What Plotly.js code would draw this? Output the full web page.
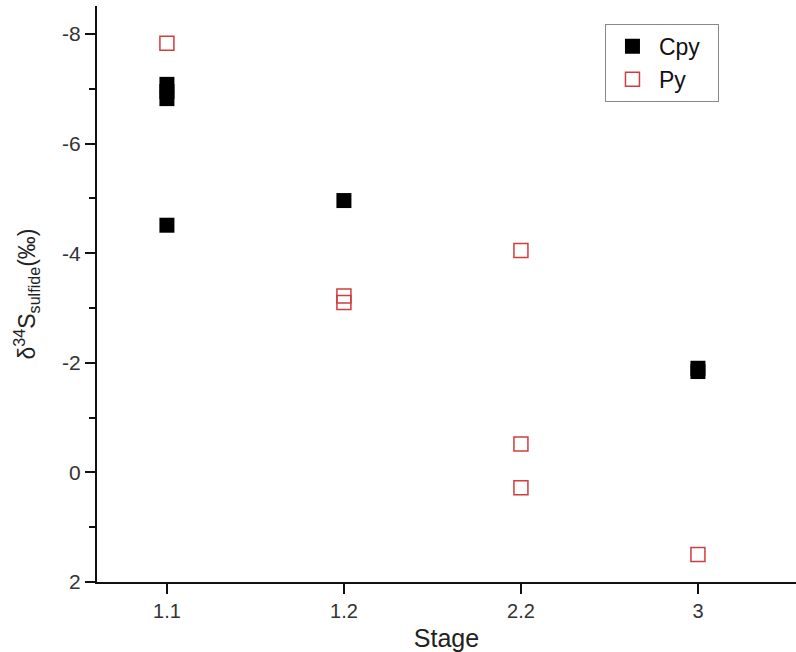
<!DOCTYPE html>
<html>
<head>
<meta charset="utf-8">
<script src="https://cdn.plot.ly/plotly-3.0.1.min.js"></script>
<style>
html,body{margin:0;padding:0;overflow:hidden;background:#fff;width:796px;height:652px;}
#chart{width:796px;height:652px;}
</style>
</head>
<body>
<div id="chart"></div>
<script>
// Data
const stages = ["1.1", "1.2", "2.2", "3"];
const cpyStage = ["1.1", "1.1", "1.1", "1.1", "1.2", "3", "3"];
const cpyValue = [-7.08, -6.95, -6.82, -4.51, -4.96, -1.9, -1.84];
const pyStage = ["1.1", "1.2", "1.2", "2.2", "2.2", "2.2", "3"];
const pyValue = [-7.83, -3.22, -3.1, -4.05, -0.52, 0.28, 1.5];
const yTicks = [-8, -6, -4, -2, 0, 2];

const font = "Liberation Sans, Arial, sans-serif";

const traces = [
  {
    x: cpyStage, y: cpyValue, name: "Cpy\u00a0\u00a0", type: "scatter", mode: "markers",
    marker: {symbol: "square", size: 15, color: "#000000", line: {width: 0}}
  },
  {
    x: pyStage, y: pyValue, name: "Py", type: "scatter", mode: "markers",
    marker: {symbol: "square-open", size: 14, color: "#d23c3c", line: {width: 1.5, color: "#d23c3c"}}
  }
];

// plot area: 97px .. 796px
const xr = [-0.395, 3.554];
const yr = [2, -8.51];

const layout = {
  width: 796, height: 652,
  margin: {l: 97, r: 0, t: 6, b: 70},
  paper_bgcolor: "#ffffff", plot_bgcolor: "#ffffff",
  font: {family: font, color: "#222"},
  showlegend: true,
  legend: {
    x: 0.7267, y: 0.969, xanchor: "left", yanchor: "top",
    bgcolor: "#ffffff", bordercolor: "#888888", borderwidth: 1,
    font: {family: font, size: 23, color: "#111"},
    itemwidth: 43, tracegroupgap: 0
  },
  xaxis: {
    type: "category", categoryorder: "array", categoryarray: stages,
    range: xr, showgrid: false, zeroline: false,
    showline: true, linecolor: "#111", linewidth: 2,
    ticks: "outside", ticklen: 10, tickwidth: 2, tickcolor: "#111",
    tickfont: {family: font, size: 20, color: "#333"},
    title: {text: "Stage", font: {family: font, size: 25, color: "#222"}, standoff: 10}
  },
  yaxis: {
    range: yr, showgrid: false, zeroline: false,
    tickmode: "array", tickvals: yTicks, ticktext: yTicks.map(String),
    showline: true, linecolor: "#111", linewidth: 2,
    ticks: "outside", ticklen: 10, tickwidth: 2, tickcolor: "#111",
    minor: {ticks: "outside", dtick: 1, tick0: 0, ticklen: 6, tickwidth: 2, tickcolor: "#111", showgrid: false},
    tickfont: {family: font, size: 21, color: "#333"},
    title: {text: "δ<sup>34</sup>S<sub>sulfide</sub>(‰)", font: {family: font, size: 23, color: "#222"}, standoff: 20}
  },
  xaxis2: {
    overlaying: "x", side: "top", anchor: "y", range: xr,
    tickmode: "array", tickvals: [0, 1, 2, 3], showticklabels: false,
    showline: true, linecolor: "#111", linewidth: 2,
    ticks: "inside", ticklen: 10, tickwidth: 2, tickcolor: "#111",
    showgrid: false, zeroline: false
  },
  yaxis2: {
    overlaying: "y", side: "right", anchor: "x", range: yr,
    tickmode: "array", tickvals: yTicks, showticklabels: false,
    showline: false,
    ticks: "inside", ticklen: 6, tickwidth: 2, tickcolor: "#111",
    showgrid: false, zeroline: false
  }
};

Plotly.newPlot("chart", traces, layout, {displayModeBar: false, staticPlot: true});
</script>
</body>
</html>
